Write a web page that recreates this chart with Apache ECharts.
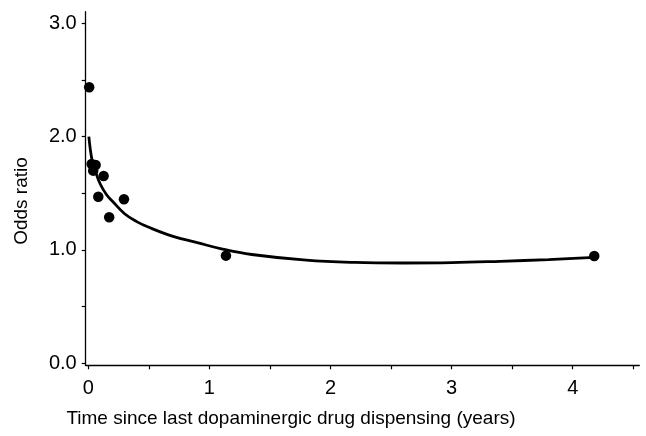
<!DOCTYPE html>
<html>
<head>
<meta charset="utf-8">
<script src="https://cdn.jsdelivr.net/npm/echarts@6/dist/echarts.min.js"></script>
<style>html,body{margin:0;padding:0;background:#fff;}#c{width:646px;height:436px;}</style>
</head>
<body>
<div id="c"></div>
<script>
// Observed data points
const pointX = [0.008, 0.028, 0.061, 0.041, 0.127, 0.083, 0.295, 0.173, 1.137, 4.178];
const pointY = [2.436, 1.759, 1.750, 1.700, 1.653, 1.470, 1.447, 1.289, 0.950, 0.947];
// Fitted curve
const curveX = [0.005, 0.03, 0.06, 0.1, 0.15, 0.2, 0.3, 0.4, 0.5, 0.7, 0.9, 1.1, 1.35, 1.8, 2.2, 2.6, 3.0, 3.4, 3.8, 4.18];
const curveY = [2.0, 1.80, 1.69, 1.58, 1.49, 1.43, 1.32, 1.25, 1.20, 1.12, 1.065, 1.01, 0.96, 0.91, 0.89, 0.885, 0.888, 0.90, 0.915, 0.935];
// Ticks
const xTicks = [0, 0.5, 1, 1.5, 2, 2.5, 3, 3.5, 4, 4.5];
const xLabels = [0, 1, 2, 3, 4];
const yTicks = [0, 0.5, 1, 1.5, 2, 2.5, 3];
const yLabels = [0, 1, 2, 3];

const font = 'Liberation Sans, Arial, Helvetica, sans-serif';
const chart = echarts.init(document.getElementById('c'), null, {renderer: 'canvas'});
chart.setOption({
  animation: false,
  backgroundColor: '#fff',
  grid: {left: 85.7, right: 6.7, top: 11.7, bottom: 70.7, containLabel: false},
  xAxis: {
    type: 'value', min: -0.021, max: 4.55,
    name: 'Time since last dopaminergic drug dispensing (years)',
    nameLocation: 'middle', nameGap: 44,
    nameTextStyle: {fontFamily: font, fontSize: 19, color: '#000', padding: [0, 143, 0, 0]},
    axisLine: {show: true, onZero: false, lineStyle: {color: '#000', width: 1.3}},
    axisTick: {show: true, length: 4, customValues: xTicks, lineStyle: {color: '#000', width: 1.2}},
    axisLabel: {customValues: xLabels, margin: 13, fontFamily: font, fontSize: 20, color: '#000',
      formatter: v => String(v)},
    splitLine: {show: false}
  },
  yAxis: {
    type: 'value', min: -0.018, max: 3.103,
    name: 'Odds ratio', nameLocation: 'middle', nameGap: 54, nameRotate: 90,
    nameTextStyle: {fontFamily: font, fontSize: 19, color: '#000', padding: [0, 25, 0, 0]},
    axisLine: {show: true, onZero: false, lineStyle: {color: '#000', width: 1.3}},
    axisTick: {show: true, length: 4, customValues: yTicks, lineStyle: {color: '#000', width: 1.2}},
    axisLabel: {customValues: yLabels, margin: 9, fontFamily: font, fontSize: 20, color: '#000',
      formatter: v => v.toFixed(1)},
    splitLine: {show: false}
  },
  series: [
    {
      type: 'line', data: curveX.map((x, i) => [x, curveY[i]]),
      smooth: 0.4, showSymbol: false, symbol: 'none',
      lineStyle: {color: '#000', width: 2.8}, z: 2
    },
    {
      type: 'scatter', data: pointX.map((x, i) => [x, pointY[i]]),
      symbol: 'circle', symbolSize: 10.5,
      itemStyle: {color: '#000', opacity: 1}, z: 3
    }
  ]
});
</script>
</body>
</html>
